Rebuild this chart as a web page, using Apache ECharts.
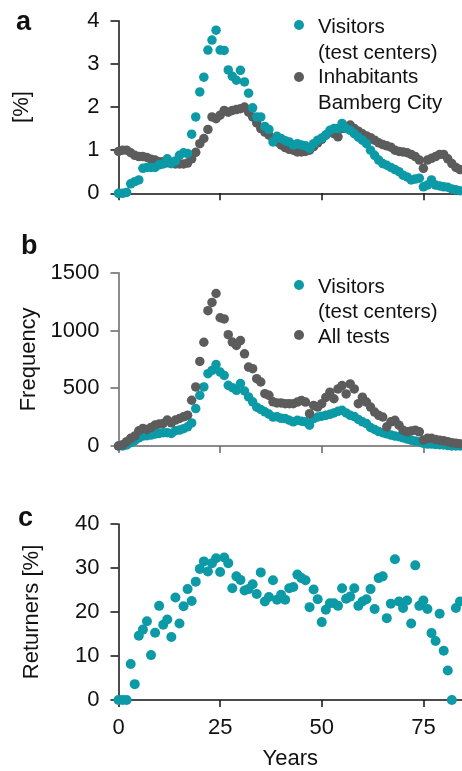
<!DOCTYPE html>
<html>
<head>
<meta charset="utf-8">
<script src="https://cdn.jsdelivr.net/npm/echarts@6.0.0/dist/echarts.min.js"></script>
<style>
  html, body { margin: 0; padding: 0; background: #fff; }
  #myChart { width: 462px; height: 771px; }
</style>
</head>
<body>
<div id="myChart"></div>
<script>
  // 年龄 (Years)
  const years = [0,1,2,3,4,5,6,7,8,9,10,11,12,13,14,15,16,17,18,19,20,21,22,23,24,25,26,27,28,29,
    30,31,32,33,34,35,36,37,38,39,40,41,42,43,44,45,46,47,48,49,50,51,52,53,54,55,56,57,58,59,
    60,61,62,63,64,65,66,67,68,69,70,71,72,73,74,75,76,77,78,79,80,81,82,83,84]
  const xTicks = [0, 25, 50, 75]

  // a: [%]
  const visitorsPct = [0,0,0.02,0.22,0.27,0.31,0.58,0.6,0.6,0.6,0.66,0.68,0.8,0.69,0.75,0.88,0.94,0.92,1.37,1.77,
    2.35,2.69,3.32,3.55,3.78,3.32,3.31,2.86,2.71,2.62,2.85,2.58,2.32,1.98,1.77,1.77,1.55,1.48,1.19,1.32,
    1.27,1.22,1.19,1.12,1.15,1.12,1.1,1.04,1.15,1.23,1.28,1.35,1.46,1.5,1.5,1.62,1.5,1.46,1.38,1.3,
    1.23,1.15,1.0,0.88,0.77,0.69,0.65,0.6,0.55,0.5,0.42,0.38,0.31,0.33,0.35,0.15,0.19,0.31,0.19,0.17,
    0.15,0.14,0.1,0.08,0.06]
  const inhabitantsPct = [0.97,1.0,1.0,0.94,0.88,0.85,0.85,0.83,0.79,0.77,0.73,0.73,0.71,0.69,0.68,0.68,0.68,0.7,0.8,0.95,
    1.15,1.27,1.48,1.77,1.73,1.81,1.92,1.88,1.92,1.94,1.96,2.0,1.88,1.77,1.63,1.5,1.42,1.35,1.27,1.19,
    1.12,1.06,1.02,1.0,0.96,0.96,0.97,1.0,1.08,1.17,1.25,1.35,1.42,1.38,1.31,1.5,1.54,1.58,1.5,1.44,
    1.38,1.33,1.29,1.23,1.17,1.13,1.1,1.07,1.0,0.97,0.96,0.94,0.9,0.85,0.77,0.58,0.77,0.81,0.85,0.9,
    0.9,0.8,0.69,0.6,0.55]

  // b: Frequency
  const visitorsFreq = [0,0,9,29,46,70,86,89,95,103,109,115,115,109,132,138,150,166,200,324,
    439,511,626,654,705,640,611,525,505,482,540,476,425,382,336,316,296,276,250,253,
    240,237,223,209,223,215,209,180,237,251,258,266,274,286,300,309,286,266,255,230,
    209,194,160,143,125,115,105,95,86,80,71,60,50,43,37,23,17,17,14,11,
    9,5,0,0,0]
  const allTestsFreq = [0,10,37,66,86,132,152,143,161,181,190,195,224,201,224,238,253,267,396,511,
    732,898,1171,1243,1320,1110,1100,964,900,870,913,798,683,669,583,554,453,439,382,373,
    373,366,366,366,380,394,380,280,351,337,366,420,466,409,494,523,451,537,494,366,
    423,380,337,294,266,251,166,209,223,180,137,123,130,137,123,51,66,66,57,50,
    46,37,29,23,20]

  // c: Returners [%]
  const returnersPct = [0,0,0,8.2,3.6,14.6,16,17.9,10.2,15.3,21.4,17.1,18.3,14.3,23.3,17.4,21.3,25.2,22.5,26.9,
    29.8,31.5,29.2,31.1,32.2,29.1,32.4,31.1,25.4,28.1,27.3,24.9,25.2,26.3,24.1,29,22.4,23.4,27.2,22.8,
    23.9,22.8,25.4,25.7,28.5,27.7,27.2,21.1,25.1,22.9,17.7,20.5,22,22,21.4,25.4,23,23.5,25.4,21.4,
    22.4,22.9,25.2,20.7,27.7,28.1,18.6,21.9,32,22.4,20.9,22.6,17.4,30.6,21.4,22.6,20.7,15.2,13.4,19.6,
    11.2,6.7,0,20.9,22.4]

  const TEAL = '#0b9aa6'
  const GRAY = '#5c5c5c'
  const FONT = '"Liberation Sans", Arial, sans-serif'

  function pts(vals) {
    return years.map((y, i) => [y, vals[i]])
  }

  function xAxis(grid, showLabel, lineColor) {
    return {
      type: 'value', gridIndex: grid, min: 0, max: 84.5,
      axisLine: { show: true, lineStyle: { color: lineColor, width: 1.5 } },
      axisTick: { show: true, length: 7, customValues: xTicks, lineStyle: { color: lineColor, width: 1.5 } },
      axisLabel: { show: showLabel, customValues: xTicks, margin: 17, fontSize: 22, color: '#111', fontFamily: FONT },
      splitLine: { show: false },
      name: showLabel ? 'Years' : '', nameLocation: 'middle', nameGap: 48,
      nameTextStyle: { fontSize: 22, color: '#111', fontFamily: FONT }
    }
  }

  function yAxis(grid, max, interval, name, gap, lineColor) {
    return {
      type: 'value', gridIndex: grid, min: 0, max: max, interval: interval,
      axisLine: { show: true, lineStyle: { color: lineColor, width: 1.5 } },
      axisTick: { show: true, length: 8, lineStyle: { color: lineColor, width: 1.5 } },
      axisLabel: { margin: 19, fontSize: 22, color: '#111', fontFamily: FONT, formatter: v => String(v) },
      splitLine: { show: false },
      name: name, nameLocation: 'middle', nameGap: gap,
      nameTextStyle: { fontSize: 22, color: '#111', fontFamily: FONT }
    }
  }

  function scatter(name, x, y, vals, color, size) {
    return {
      name: name, type: 'scatter', xAxisIndex: x, yAxisIndex: y,
      data: pts(vals), symbolSize: size, clip: false,
      itemStyle: { color: color, opacity: 1 },
      emphasis: { disabled: true }
    }
  }

  function txt(x, y, s, bold, size) {
    return {
      type: 'text', x: x, y: y,
      style: {
        text: s, fill: '#111', verticalAlign: 'middle',
        font: (bold ? 'bold ' : '') + (size || 20.5) + 'px ' + FONT
      }
    }
  }

  function dot(x, y, color) {
    return { type: 'circle', shape: { cx: x, cy: y, r: 5 }, style: { fill: color } }
  }

  const chart = echarts.init(document.getElementById('myChart'))
  chart.setOption({
    animation: false,
    grid: [
      { left: 118.5, right: 0, top: 20.7, height: 172.6 },
      { left: 118.5, right: 0, top: 272.7, height: 173.3 },
      { left: 118.5, right: 0, top: 524, height: 176.7 }
    ],
    xAxis: [
      xAxis(0, false, '#111'),
      xAxis(1, false, '#666'),
      xAxis(2, true, '#111')
    ],
    yAxis: [
      yAxis(0, 4, 1, '[%]', 86, '#111'),
      yAxis(1, 1500, 500, 'Frequency', 76, '#666'),
      yAxis(2, 40, 10, 'Returners [%]', 76, '#111')
    ],
    series: [
      scatter('Inhabitants', 0, 0, inhabitantsPct, GRAY, 9.5),
      scatter('Visitors a', 0, 0, visitorsPct, TEAL, 9.5),
      scatter('Visitors b', 1, 1, visitorsFreq, TEAL, 9.5),
      scatter('All tests', 1, 1, allTestsFreq, GRAY, 9.5),
      scatter('Returners', 2, 2, returnersPct, TEAL, 10)
    ],
    graphic: [
      // 面板字母
      txt(16, 23, 'a', true, 27),
      txt(21, 247, 'b', true, 27),
      txt(18, 519, 'c', true, 27),
      // 图例 a
      dot(299, 25, TEAL), txt(318, 27, 'Visitors'), txt(318, 53, '(test centers)'),
      dot(299, 77, GRAY), txt(318, 77, 'Inhabitants'), txt(318, 103, 'Bamberg City'),
      // 图例 b
      dot(299, 285, TEAL), txt(318, 287, 'Visitors'), txt(318, 312, '(test centers)'),
      dot(299, 335, GRAY), txt(318, 337, 'All tests')
    ]
  })
</script>
</body>
</html>
